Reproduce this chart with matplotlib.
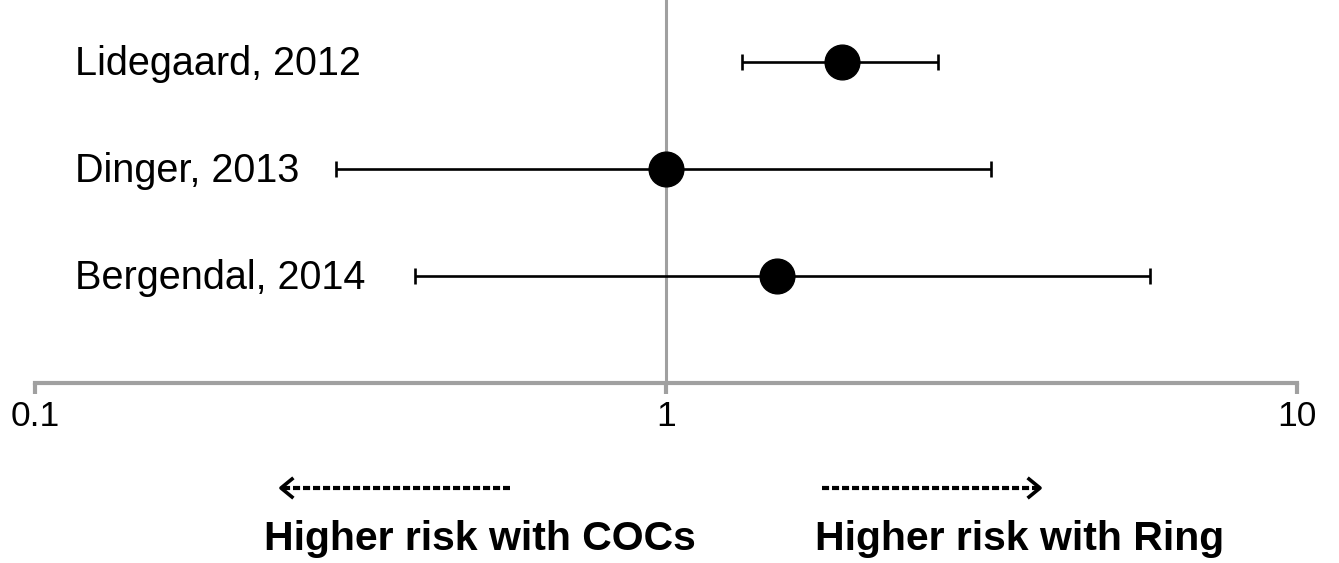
import matplotlib
matplotlib.use('Agg')
import matplotlib.pyplot as plt
import matplotlib.transforms as mtransforms
from matplotlib.lines import Line2D

studies = ['Lidegaard, 2012', 'Dinger, 2013', 'Bergendal, 2014']
estimate = [1.90, 1.0, 1.50]
ci_low = [1.32, 0.30, 0.40]
ci_high = [2.70, 3.27, 5.85]
rows = [3, 2, 1]
tick_vals = [0.1, 1, 10]
tick_text = ['0.1', '1', '10']

plt.rcParams['font.family'] = ['Liberation Sans', 'DejaVu Sans']

fig = plt.figure(figsize=(13.39, 5.63), dpi=100)
ax = fig.add_axes([35 / 1339, 180 / 563, 1262 / 1339, 383 / 563])

ax.set_xscale('log')
ax.set_xlim(0.1, 10)
ax.set_ylim(0, 3.58)

ax.axvline(1, color='#a0a0a0', linewidth=2.2, zorder=1)

xerr = [[e - lo for e, lo in zip(estimate, ci_low)],
        [hi - e for e, hi in zip(estimate, ci_high)]]
ax.errorbar(estimate, rows, xerr=xerr, fmt='o', color='black', markersize=25,
            elinewidth=1.9, capsize=6, capthick=1.9, zorder=3)

trans = mtransforms.blended_transform_factory(ax.transAxes, ax.transData)
for name, r in zip(studies, rows):
    ax.text(40 / 1262, r - 0.02, name, transform=trans, ha='left', va='center', fontsize=28.5)

for s in ['top', 'right', 'left']:
    ax.spines[s].set_visible(False)
ax.spines['bottom'].set_color('#a0a0a0')
ax.spines['bottom'].set_linewidth(3)
ax.set_yticks([])
ax.minorticks_off()
ax.set_xticks(tick_vals)
ax.set_xticklabels(tick_text, fontsize=25.5)
ax.tick_params(axis='x', direction='out', length=8, width=3, color='#a0a0a0', pad=4)

# direction arrows and captions
y_arr = 1 - 488 / 563
dash = (0, (1.7, 0.7))
fig.add_artist(Line2D([283 / 1339, 510 / 1339], [y_arr, y_arr], color='black',
                      linewidth=3, linestyle=dash))
fig.add_artist(Line2D([822 / 1339, 1037 / 1339], [y_arr, y_arr], color='black',
                      linewidth=3, linestyle=dash))
fig.add_artist(Line2D([292 / 1339, 281 / 1339, 292 / 1339],
                      [y_arr + 9 / 563, y_arr, y_arr - 9 / 563], color='black', linewidth=2.6))
fig.add_artist(Line2D([1029 / 1339, 1040 / 1339, 1029 / 1339],
                      [y_arr + 9 / 563, y_arr, y_arr - 9 / 563], color='black', linewidth=2.6))

fig.text(480 / 1339, 1 - 550 / 563, 'Higher risk with COCs', ha='center', va='baseline',
         fontsize=29.5, fontweight='bold')
fig.text(1020 / 1339, 1 - 550 / 563, 'Higher risk with Ring', ha='center', va='baseline',
         fontsize=29.5, fontweight='bold')

fig.savefig('out.png', dpi=100)
